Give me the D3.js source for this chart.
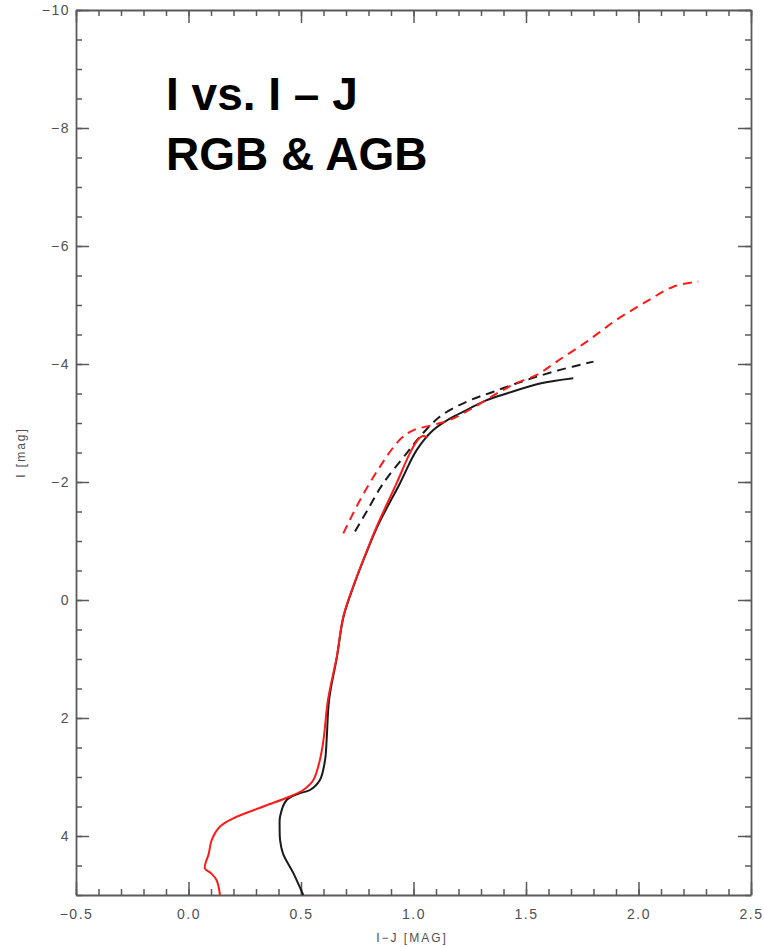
<!DOCTYPE html>
<html>
<head>
<meta charset="utf-8">
<script src="https://cdn.jsdelivr.net/npm/d3@7"></script>
<style>
    html, body { margin: 0; padding: 0; background: #fff; }
    svg { display: block; font-family: "Liberation Sans", Arial, sans-serif; }
    .axis path, .axis line { stroke: #5a5a5a; }
    .axis path { stroke-width: 1.8; }
    .axis line { stroke-width: 1.5; }
    .axis text { fill: #505050; font-size: 14px; letter-spacing: 1.5px; }
</style>
</head>
<body>
<div id="chart"></div>
<script>
// I vs. I-J isochrones.
const xMajorTicks = [-0.5, 0.0, 0.5, 1.0, 1.5, 2.0, 2.5];
const yMajorTicks = [-10, -8, -6, -4, -2, 0, 2, 4];

// RGB (solid) and AGB (dashed) tracks, [I-J, I]
const rgbRed = [
    [0.14, 5.0], [0.125, 4.75], [0.10, 4.63], [0.073, 4.55], [0.09, 4.3], [0.103, 4.07],
    [0.14, 3.84], [0.199, 3.70], [0.333, 3.50], [0.451, 3.33], [0.51, 3.22], [0.555, 3.05],
    [0.584, 2.71], [0.60, 2.37], [0.62, 1.69], [0.659, 0.96], [0.688, 0.28], [0.732, -0.23],
    [0.777, -0.68], [0.836, -1.24], [0.925, -1.98], [0.984, -2.49], [1.02, -2.72],
    [1.04, -2.78], [1.06, -2.76]
];
const rgbBlack = [
    [0.51, 5.0], [0.466, 4.63], [0.42, 4.3], [0.407, 4.07], [0.405, 3.85], [0.407, 3.67],
    [0.436, 3.39], [0.49, 3.28], [0.54, 3.22], [0.584, 3.05], [0.607, 2.71], [0.614, 2.37],
    [0.625, 1.69], [0.66, 0.96], [0.688, 0.30], [0.735, -0.25], [0.78, -0.70], [0.84, -1.25],
    [0.94, -1.98], [1.014, -2.54], [1.088, -2.88], [1.16, -3.07], [1.236, -3.22], [1.32, -3.38],
    [1.414, -3.50], [1.562, -3.67], [1.71, -3.76]
];
const agbBlack = [
    [0.74, -1.16], [0.792, -1.50], [0.866, -1.98], [0.970, -2.49], [1.029, -2.77], [1.118, -3.11],
    [1.236, -3.36], [1.355, -3.53], [1.503, -3.73], [1.651, -3.90], [1.80, -4.04]
];
const agbRed = [
    [0.688, -1.13], [0.762, -1.69], [0.851, -2.26], [0.94, -2.72], [1.0, -2.88], [1.08, -2.96],
    [1.16, -3.05], [1.266, -3.26], [1.384, -3.53], [1.46, -3.68], [1.55, -3.82], [1.636, -4.04],
    [1.77, -4.38], [1.903, -4.75], [2.036, -5.06], [2.155, -5.31], [2.266, -5.40]
];

const width = 764;
const height = 947;
const margin = { top: 10, right: 13, bottom: 52, left: 76 };

const x = d3.scaleLinear()
    .domain([-0.5, 2.5])
    .range([margin.left, width - margin.right]);

const y = d3.scaleLinear()
    .domain([-10, 5])
    .range([margin.top, height - margin.bottom]);

const svg = d3.select("#chart")
    .append("svg")
    .attr("width", width)
    .attr("height", height);

const xMinor = d3.range(-5, 26).map(v => v / 10);
const yMinor = d3.range(-20, 11).map(v => v / 2);
const fmtX = d3.format(".1f");

// minor ticks first, then majors on top
const addAxis = (axis, transform, cls) => svg.append("g")
    .attr("class", "axis " + cls)
    .attr("transform", transform)
    .call(axis);

addAxis(d3.axisBottom(x).tickValues(xMinor).tickSize(-6).tickFormat(""), `translate(0,${y(5)})`, "minor");
addAxis(d3.axisTop(x).tickValues(xMinor).tickSize(-6).tickFormat(""), `translate(0,${y(-10)})`, "minor");
addAxis(d3.axisLeft(y).tickValues(yMinor).tickSize(-6).tickFormat(""), `translate(${x(-0.5)},0)`, "minor");
addAxis(d3.axisRight(y).tickValues(yMinor).tickSize(-6).tickFormat(""), `translate(${x(2.5)},0)`, "minor");

addAxis(d3.axisBottom(x).tickValues(xMajorTicks).tickSize(-13).tickSizeOuter(0).tickPadding(14).tickFormat(fmtX),
    `translate(0,${y(5)})`, "major");
addAxis(d3.axisTop(x).tickValues(xMajorTicks).tickSize(-13).tickSizeOuter(0).tickFormat(""),
    `translate(0,${y(-10)})`, "major");
addAxis(d3.axisLeft(y).tickValues(yMajorTicks).tickSize(-13).tickSizeOuter(0).tickPadding(6).tickFormat(d3.format("d")),
    `translate(${x(-0.5)},0)`, "major");
addAxis(d3.axisRight(y).tickValues(yMajorTicks).tickSize(-13).tickSizeOuter(0).tickFormat(""),
    `translate(${x(2.5)},0)`, "major");

svg.selectAll(".minor path").remove();

// axis titles
svg.append("text")
    .attr("x", 412)
    .attr("y", 942)
    .attr("text-anchor", "middle")
    .attr("fill", "#505050")
    .attr("font-size", 12)
    .attr("letter-spacing", 2)
    .text("I\u2212J [MAG]");

svg.append("text")
    .attr("transform", `translate(25,${y(-2.5)}) rotate(-90)`)
    .attr("text-anchor", "middle")
    .attr("fill", "#505050")
    .attr("font-size", 12)
    .attr("letter-spacing", 2)
    .text("I [mag]");

const line = d3.line()
    .x(d => x(d[0]))
    .y(d => y(d[1]))
    .curve(d3.curveCatmullRom.alpha(0.5));

const tracks = [
    { data: rgbBlack, color: "#1a1a1a", dash: null },
    { data: agbBlack, color: "#1a1a1a", dash: "9,6" },
    { data: agbRed, color: "#ff1a1a", dash: "9,6" },
    { data: rgbRed, color: "#ff1a1a", dash: null }
];

svg.append("g")
    .selectAll("path")
    .data(tracks)
    .join("path")
    .attr("d", d => line(d.data))
    .attr("fill", "none")
    .attr("stroke", d => d.color)
    .attr("stroke-width", 2)
    .attr("stroke-dasharray", d => d.dash);

// title block
const title = svg.append("text")
    .attr("x", 166)
    .attr("font-weight", "bold")
    .attr("font-size", 46)
    .attr("fill", "#000");
title.append("tspan").attr("x", 166).attr("y", 110).text("I vs. I \u2013 J");
title.append("tspan").attr("x", 166).attr("y", 170).text("RGB & AGB");
</script>
</body>
</html>
